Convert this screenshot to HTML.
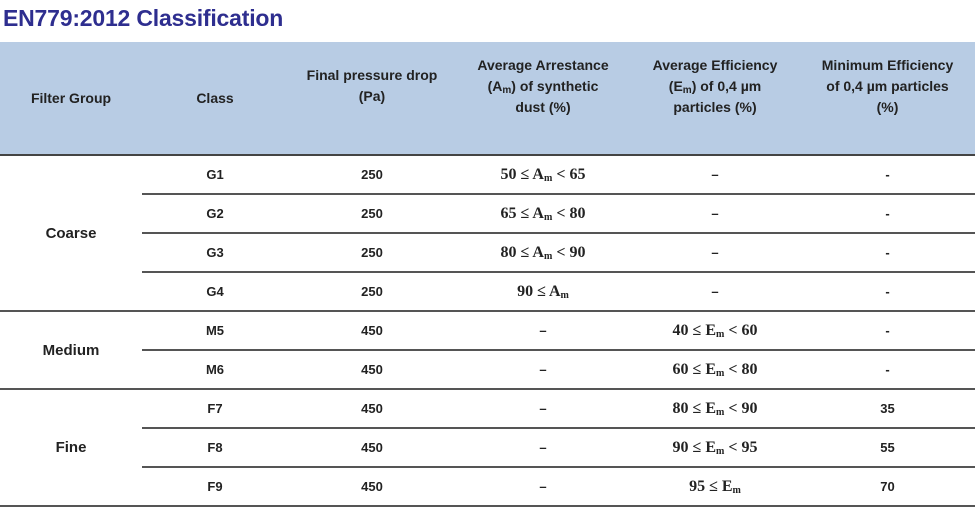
<!DOCTYPE html>
<html><head><meta charset="utf-8"><style>
body{margin:0;width:975px;height:514px;background:#fff;overflow:hidden;font-family:"Liberation Sans",sans-serif;position:relative}
#title{position:absolute;left:3px;top:5px;font-size:23px;font-weight:bold;color:#2e2e8f;letter-spacing:-0.2px}
table{position:absolute;left:0;top:42px;width:975px;border-collapse:collapse;table-layout:fixed}
th{background:#b8cce4;height:113px;font-size:14px;font-weight:bold;color:#222;line-height:21px;padding:0;border-bottom:2px solid #444;vertical-align:middle;box-sizing:border-box}
th.m{height:113px;padding-bottom:24px}
td{height:37px;text-align:center;font-size:13px;font-weight:bold;color:#222;padding:0;border-bottom:2px solid #555}
td.g{font-size:15px}
td.f{font-family:"Liberation Serif",serif;font-size:16px}
sub{font-size:10px;vertical-align:-2px;line-height:0}
</style></head><body>
<div id="title">EN779:2012 Classification</div>
<table>
<colgroup><col style="width:142px"><col style="width:146px"><col style="width:168px"><col style="width:174px"><col style="width:170px"><col style="width:175px"></colgroup>
<tr>
<th>Filter Group</th>
<th>Class</th>
<th class="m">Final pressure drop<br>(Pa)</th>
<th class="m">Average Arrestance<br>(A<sub>m</sub>) of synthetic<br>dust (%)</th>
<th class="m">Average Efficiency<br>(E<sub>m</sub>) of 0,4 µm<br>particles (%)</th>
<th class="m">Minimum Efficiency<br>of 0,4 µm particles<br>(%)</th>
</tr>
<tr><td class="g" rowspan="4">Coarse</td><td>G1</td><td>250</td><td class="f">50 ≤ A<sub>m</sub> &lt; 65</td><td>–</td><td>-</td></tr>
<tr><td>G2</td><td>250</td><td class="f">65 ≤ A<sub>m</sub> &lt; 80</td><td>–</td><td>-</td></tr>
<tr><td>G3</td><td>250</td><td class="f">80 ≤ A<sub>m</sub> &lt; 90</td><td>–</td><td>-</td></tr>
<tr><td>G4</td><td>250</td><td class="f">90 ≤ A<sub>m</sub></td><td>–</td><td>-</td></tr>
<tr><td class="g" rowspan="2">Medium</td><td>M5</td><td>450</td><td>–</td><td class="f">40 ≤ E<sub>m</sub> &lt; 60</td><td>-</td></tr>
<tr><td>M6</td><td>450</td><td>–</td><td class="f">60 ≤ E<sub>m</sub> &lt; 80</td><td>-</td></tr>
<tr><td class="g" rowspan="3">Fine</td><td>F7</td><td>450</td><td>–</td><td class="f">80 ≤ E<sub>m</sub> &lt; 90</td><td>35</td></tr>
<tr><td>F8</td><td>450</td><td>–</td><td class="f">90 ≤ E<sub>m</sub> &lt; 95</td><td>55</td></tr>
<tr><td>F9</td><td>450</td><td>–</td><td class="f">95 ≤ E<sub>m</sub></td><td>70</td></tr>
</table>
</body></html>
